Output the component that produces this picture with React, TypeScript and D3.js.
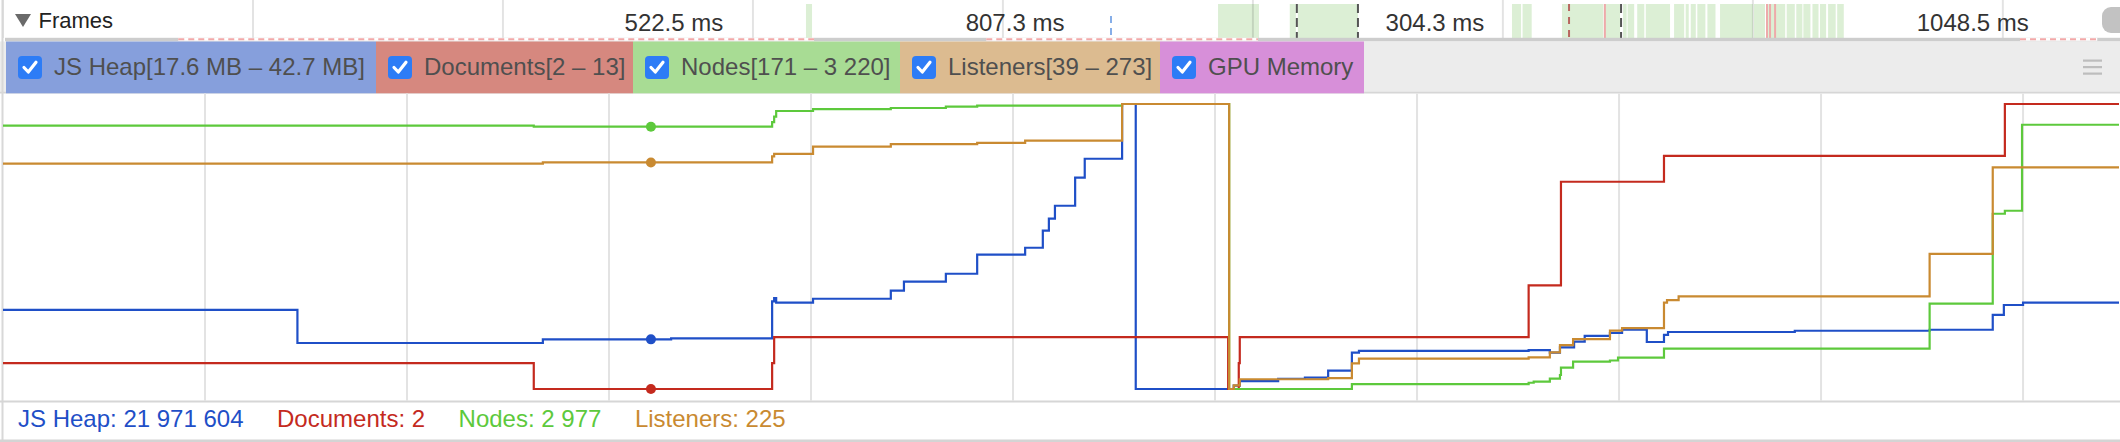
import React from 'react';
import * as d3 from 'd3';

const FONT = '"Liberation Sans", Arial, Helvetica, sans-serif';
const W = 2120;
const H = 442;

// ---------------- data (time in ms) ----------------
const heapTimesMs = [0, 583, 1069, 1323, 1523, 1527, 1531, 1604, 1758, 1784, 1867, 1929, 2024, 2059, 2071, 2083, 2123, 2142, 2216, 2243, 2437, 2449, 2525, 2578, 2624, 2671, 2685, 3021, 3063, 3083, 3111, 3132, 3182, 3206, 3255, 3289, 3297, 3548, 3815, 3940, 3962, 4000];
const heapMB = [24.56, 21.65, 21.971604, 22.05, 25.32, 25.61, 25.2, 25.55, 26.26, 27.05, 27.75, 29.43, 30.04, 31.54, 32.6, 33.74, 36.21, 37.88, 42.7, 17.6, 17.9, 18.3, 18.5, 18.6, 19.21, 20.8, 20.95, 21.03, 20.8, 21.27, 21.77, 22.27, 22.53, 22.82, 21.74, 22.36, 22.62, 22.73, 22.82, 24.12, 25.0, 25.2];

const docTimesMs = [0, 1051, 1523, 1527, 2426, 2447, 2449, 3021, 3085, 3289, 3964];
const docCounts = [3, 2, 3, 4, 2, 3, 4, 6, 10, 11, 13];

const nodeTimesMs = [0, 1051, 1523, 1527, 1531, 1604, 1758, 1867, 1929, 2216, 2428, 2671, 3021, 3031, 3063, 3083, 3085, 3109, 3182, 3198, 3289, 3815, 3940, 3964, 3998];
const nodeCounts = [2988, 2977, 3027, 3084, 3145, 3166, 3177, 3191, 3202, 3220, 171, 224, 238, 249, 281, 321, 399, 463, 476, 506, 602, 1084, 2046, 2078, 2998];

const listenerTimesMs = [0, 1069, 1523, 1527, 1604, 1758, 1929, 2024, 2216, 2428, 2437, 2449, 2624, 2671, 2685, 3021, 3063, 3083, 3109, 3182, 3206, 3289, 3295, 3318, 3815, 3940];
const listenerCounts = [224, 225, 230, 232, 238, 240, 241, 243, 273, 39, 42, 47, 48, 60, 64, 65, 69, 75, 80, 87, 89, 110, 112, 115, 150, 221];

const cursorMs = 1283;
const viewEndMs = 4190;
const labelViewEndMs = 4156;

const frameBlockStartsMs = [1590, 2406, 2548, 2564, 2988, 3009, 3087, 3172, 3208, 3217, 3236, 3253, 3309, 3332, 3342, 3355, 3375, 3400, 3467, 3491, 3532, 3551, 3565, 3583, 3598, 3614, 3632];
const frameBlockEndsMs = [1602, 2487, 2560, 2683, 3006, 3027, 3169, 3202, 3215, 3230, 3250, 3301, 3329, 3338, 3352, 3371, 3391, 3465, 3489, 3529, 3548, 3563, 3579, 3595, 3610, 3629, 3645];

const longFrameStartsMs = [1067, 1602, 2683, 3645];
const longFrameEndsMs = [1590, 2406, 2988, 4694];
const longFrameLabels = ['522.5 ms', '807.3 ms', '304.3 ms', '1048.5 ms'];

const markerTimesMs = [2194, 2562, 2683, 3101, 3172, 3204, 3493, 3499, 3509];
const markerKinds = ['blue', 'dark', 'dark', 'red', 'pink', 'dark', 'pink', 'pink', 'pink'];

const droppedStartsMs = [347, 1947, 3994];
const droppedEndsMs = [1606, 2485, 4147];

const chartGridStepMs = 400;
const rulerStepMs = 495;

// ---------------- layout ----------------
const chipEdges = [6, 376, 633, 900, 1160, 1364];
const PLOT_TOP = 104;
const PLOT_BOTTOM = 389;

const intFmt = d3.formatLocale({ decimal: '.', thousands: ' ', grouping: [3], currency: ['', ''] }).format(',d');

const markerStyle: Record<string, { color: string; dash: string | undefined }> = {
  blue: { color: '#86aee8', dash: '7 5' },
  dark: { color: '#555555', dash: '9 5' },
  red: { color: '#b8675f', dash: '7 6' },
  pink: { color: '#eeaaaa', dash: undefined },
};

function valueAt(times: number[], values: number[], t: number) {
  const i = Math.max(0, d3.bisectRight(times, t) - 1);
  return values[i];
}

export default function App() {
  const x = d3.scaleLinear().domain([0, viewEndMs]).range([3, 2119]);

  const series = [
    { name: 'JS Heap', times: heapTimesMs, values: heapMB, color: '#1f4fc7', chip: '#869fdc' },
    { name: 'Documents', times: docTimesMs, values: docCounts, color: '#c42a1e', chip: '#d6887f' },
    { name: 'Nodes', times: nodeTimesMs, values: nodeCounts, color: '#5dc93c', chip: '#a8dc94' },
    { name: 'Listeners', times: listenerTimesMs, values: listenerCounts, color: '#c98a31', chip: '#dcbb90' },
  ];

  const drawn = series.map((s) => {
    const [mn, mx] = d3.extent(s.values) as [number, number];
    const y = d3.scaleLinear().domain([mn, mx]).range([PLOT_BOTTOM, PLOT_TOP]);
    const pts: [number, number][] = s.times.map((t, i) => [t, s.values[i]]);
    pts.push([viewEndMs, s.values[s.values.length - 1]]);
    const line = d3
      .line<[number, number]>()
      .x((d) => x(d[0]))
      .y((d) => y(d[1]))
      .curve(d3.curveStepAfter);
    const cur = valueAt(s.times, s.values, cursorMs);
    const title =
      s.name === 'JS Heap'
        ? `${s.name}[${mn.toFixed(1)} MB – ${mx.toFixed(1)} MB]`
        : `${s.name}[${intFmt(mn)} – ${intFmt(mx)}]`;
    const readout =
      s.name === 'JS Heap' ? `${s.name}: ${intFmt(Math.round(cur * 1e6))}` : `${s.name}: ${intFmt(cur)}`;
    return { ...s, y, d: line(pts) || '', cur, title, readout };
  });

  const chips = [
    ...drawn.map((s) => ({ title: s.title, fill: s.chip })),
    { title: 'GPU Memory', fill: '#d78fd9' },
  ];

  const chartGrid = d3.range(chartGridStepMs, viewEndMs, chartGridStepMs);
  const rulerLines = d3.range(0, viewEndMs, rulerStepMs);

  return (
    <svg
      width={W}
      height={H}
      viewBox={`0 0 ${W} ${H}`}
      style={{ position: 'fixed', left: 0, top: 0, background: '#fff', fontFamily: FONT }}
    >
      <rect x={0} y={0} width={W} height={H} fill="#fff" />

      {/* ---------- Frames row ---------- */}
      {frameBlockStartsMs.map((s, i) => (
        <rect key={'fb' + i} x={x(s)} y={4} width={x(frameBlockEndsMs[i]) - x(s)} height={34} fill="#dcefd5" />
      ))}
      {rulerLines.map((t, i) => (
        <line key={'rl' + i} x1={x(t)} x2={x(t)} y1={0} y2={38} stroke="#000" strokeOpacity={0.11} strokeWidth={2} />
      ))}
      {markerTimesMs.map((t, i) => {
        const st = markerStyle[markerKinds[i]];
        return (
          <line
            key={'mk' + i}
            x1={x(t)}
            x2={x(t)}
            y1={markerKinds[i] === 'blue' ? 16 : 4}
            y2={38}
            stroke={st.color}
            strokeWidth={2}
            strokeDasharray={st.dash}
          />
        );
      })}
      <polygon points="15,14 31,14 23,27" fill="#6a6a6a" />
      <text x={38.5} y={28.3} fontSize={22} fill="#222">
        Frames
      </text>
      {longFrameLabels.map((lab, i) => {
        const a = longFrameStartsMs[i];
        const b = Math.min(longFrameEndsMs[i], labelViewEndMs);
        return (
          <text key={'fl' + i} x={x((a + b) / 2)} y={30.5} fontSize={24} fill="#333" textAnchor="middle">
            {lab}
          </text>
        );
      })}
      <rect x={2102} y={7} width={26} height={26} rx={9} fill="#c2c2c2" />

      {/* bottom strip of frames row */}
      <rect x={5} y={37.8} width={W} height={3.7} fill="#cdcdcd" />
      {droppedStartsMs.map((s, i) => (
        <g key={'dr' + i}>
          <rect x={x(s)} y={37.8} width={x(droppedEndsMs[i]) - x(s)} height={3} fill="#fff" />
          <line
            x1={x(s)}
            x2={x(droppedEndsMs[i])}
            y1={39.3}
            y2={39.3}
            stroke="#f2a9a9"
            strokeWidth={2}
            strokeDasharray="6 4"
          />
        </g>
      ))}

      {/* ---------- Legend row ---------- */}
      <rect x={0} y={41.5} width={W} height={51} fill="#ececec" />
      <rect x={0} y={91.8} width={W} height={1.7} fill="#d6d6d6" />
      {chips.map((c, i) => {
        const x0 = chipEdges[i];
        const x1 = chipEdges[i + 1];
        return (
          <g key={'chip' + i}>
            <rect x={x0} y={41.5} width={x1 - x0} height={51.8} fill={c.fill} />
            <rect x={x0 + 12} y={56} width={24} height={23} rx={4} fill="#2d7cf6" />
            <path
              d={`M${x0 + 18} ${67.5} L${x0 + 22.3} ${72} L${x0 + 30} ${62.3}`}
              fill="none"
              stroke="#fff"
              strokeWidth={3.2}
              strokeLinecap="round"
              strokeLinejoin="round"
            />
            <text x={x0 + 48} y={75} fontSize={24} fill="#4f4f4f">
              {c.title}
            </text>
          </g>
        );
      })}
      {[60.5, 67, 73.5].map((yy, i) => (
        <rect key={'hb' + i} x={2083} y={yy - 1} width={19} height={2.2} fill="#bdbdbd" />
      ))}

      {/* ---------- Chart ---------- */}
      {chartGrid.map((t, i) => (
        <line key={'cg' + i} x1={x(t)} x2={x(t)} y1={93.5} y2={400.5} stroke="#e3e3e3" strokeWidth={2} />
      ))}
      <line x1={2.5} x2={2.5} y1={0} y2={440} stroke="#d8d8d8" strokeWidth={2} />
      {drawn.map((s, i) => (
        <path key={'ln' + i} d={s.d} fill="none" stroke={s.color} strokeWidth={2.2} strokeLinejoin="miter" />
      ))}
      {drawn.map((s, i) => (
        <circle key={'dot' + i} cx={x(cursorMs)} cy={s.y(s.cur)} r={5} fill={s.color} />
      ))}

      {/* ---------- Readout row ---------- */}
      <rect x={0} y={400.5} width={W} height={2} fill="#d6d6d6" />
      <text x={18} y={427} fontSize={24}>
        {drawn.map((s, i) => (
          <tspan key={'ro' + i} dx={i === 0 ? 0 : 33.5} fill={s.color}>
            {s.readout}
          </tspan>
        ))}
      </text>
      <rect x={0} y={439.5} width={W} height={2.5} fill="#d4d4d4" />
    </svg>
  );
}
